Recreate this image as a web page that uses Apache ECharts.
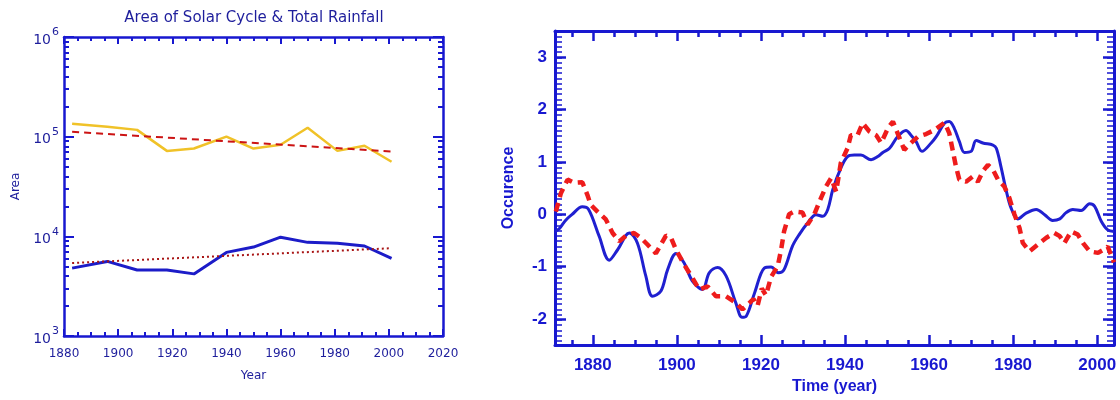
<!DOCTYPE html>
<html>
<head>
<meta charset="utf-8">
<script src="https://cdn.jsdelivr.net/npm/echarts@6/dist/echarts.min.js"></script>
<style>
  html, body { margin: 0; padding: 0; background: #fff; }
  #main { width: 1120px; height: 400px; }
</style>
</head>
<body>
<div id="main"></div>
<script>
// left panel: area of solar cycle & total rainfall (log scale)
var cycleYears = [1883, 1896, 1907, 1918, 1928, 1940, 1950, 1960, 1970, 1981, 1991, 2001];
var rainfallArea = [135000, 126000, 117000, 72000, 76000, 100000, 76000, 83000, 123000, 72000, 81000, 56000];
var solarArea = [4800, 5600, 4600, 4600, 4200, 6900, 7800, 9800, 8700, 8500, 8000, 6000];
var trendYears = [1883, 2001];
var rainfallTrend = [112000, 71000];
var solarTrend = [5400, 7600];

// right panel: occurence vs time
var solarIdxYears = [1871, 1872, 1873.5, 1875, 1877.5, 1879, 1881.5, 1883.9, 1885.9, 1888.7, 1890.6, 1892.6, 1894.2, 1896.2, 1897.8,
  1899.8, 1901.7, 1903.7, 1906.1, 1907.7, 1909.7, 1911.7, 1914, 1915.5, 1916.5, 1918.5, 1920.8, 1922.4, 1924.2, 1925.5,
  1927.5, 1929.1, 1931.1, 1933.1, 1934.7, 1935.9, 1937.1, 1939, 1940.6, 1942.2, 1943.8, 1946.2, 1947.8, 1949, 1950.6,
  1952.5, 1954.5, 1955.7, 1956.9, 1958.3, 1960.5, 1961.7, 1963.7, 1964.8, 1966, 1967.2, 1968.4, 1970, 1971.2, 1972.8,
  1975.2, 1976, 1977.1, 1978.3, 1979.5, 1981.1, 1983.1, 1985.5, 1987.5, 1989.4, 1991.1, 1992.6, 1994.2, 1996.2, 1998.2,
  1999.4, 2001, 2002.5, 2004];
var solarIdx = [-0.33, -0.28, -0.12, -0.01, 0.14, 0.09, -0.42, -0.88, -0.68, -0.36, -0.55, -1.18, -1.57, -1.47, -1.06,
  -0.75, -0.93, -1.28, -1.44, -1.12, -1.02, -1.18, -1.69, -1.97, -1.95, -1.5, -1.03, -1.01, -1.12, -1.06,
  -0.61, -0.39, -0.17, -0.01, -0.04, 0.09, 0.47, 0.88, 1.10, 1.13, 1.13, 1.04, 1.10, 1.18, 1.26,
  1.48, 1.60, 1.51, 1.39, 1.20, 1.36, 1.48, 1.74, 1.77, 1.64, 1.39, 1.18, 1.20, 1.41, 1.36,
  1.32, 1.26, 0.91, 0.47, 0.12, -0.09, 0.02, 0.09, -0.01, -0.12, -0.09, 0.03, 0.09, 0.07, 0.20,
  0.15, -0.14, -0.30, -0.33];

var rainIdxYears = [1871.2, 1872.4, 1874, 1875.6, 1877.5, 1878.7, 1879.5, 1881.1, 1883.1, 1884.7, 1886.3, 1887.9, 1889.8, 1891.4, 1893,
  1895, 1896.2, 1897.4, 1898.6, 1899.8, 1901.7, 1903.7, 1905.3, 1907.3, 1909.3, 1911.7, 1914, 1915.6, 1917, 1918.2,
  1919.2, 1920.2, 1921.2, 1922.4, 1924, 1924.8, 1925.5, 1926.7, 1927.9, 1929.9, 1931.1, 1932.7, 1934.3, 1935.5, 1936.7,
  1937.9, 1939, 1940.6, 1941.4, 1943, 1944.2, 1945.8, 1947.4, 1948.6, 1950.2, 1951.4, 1952.5, 1954.1, 1955.7, 1957.3,
  1959.3, 1961.3, 1963.7, 1964.8, 1965.6, 1966.4, 1967.2, 1968.8, 1970.4, 1971.6, 1972.8, 1974, 1975.2, 1976.4, 1977.9,
  1979.1, 1980.3, 1981.5, 1982.3, 1983.9, 1985.9, 1987.9, 1989.8, 1991.1, 1992.2, 1993.8, 1995.4, 1996.6, 1998.2, 2000.2,
  2001.5, 2002.5, 2004];
var rainIdx = [0.05, 0.40, 0.66, 0.60, 0.61, 0.37, 0.18, 0.05, -0.10, -0.36, -0.52, -0.41, -0.36, -0.45, -0.58,
  -0.75, -0.58, -0.41, -0.45, -0.68, -0.96, -1.22, -1.44, -1.38, -1.57, -1.57, -1.69, -1.82, -1.72, -1.62,
  -1.75, -1.42, -1.55, -1.2, -0.99, -0.68, -0.33, 0.0, 0.05, 0.03, -0.20, 0.0, 0.31, 0.53, 0.69,
  0.43, 0.98, 1.26, 1.51, 1.51, 1.74, 1.58, 1.51, 1.36, 1.64, 1.77, 1.55, 1.23, 1.36, 1.48,
  1.53, 1.61, 1.75, 1.55, 1.23, 0.91, 0.66, 0.62, 0.72, 0.62, 0.82, 0.94, 0.85, 0.66, 0.53,
  0.31, 0.0, -0.26, -0.55, -0.71, -0.58, -0.45, -0.36, -0.42, -0.55, -0.33, -0.39, -0.55, -0.71, -0.74,
  -0.68, -0.62, -0.92];

var rightYearTicks = [1880, 1900, 1920, 1940, 1960, 1980, 2000];
var rightValueTicks = [-2, -1, 0, 1, 2, 3];

function pairs(xs, ys) {
  var out = [];
  for (var i = 0; i < xs.length; i++) out.push([xs[i], ys[i]]);
  return out;
}

// tick positions only
var minorYears = [];
for (var y = 1875; y <= 2000; y += 5) minorYears.push(y);
var minorLog = [];
for (var d = 3; d <= 5; d++) for (var k = 2; k <= 9; k++) minorLog.push(k * Math.pow(10, d));
var minorValues = [];
for (var t = -25; t <= 35; t++) minorValues.push(t / 10);

var navy = '#1e1e9c';
var blue = '#1818d0';
var leftFont = 'DejaVu Sans';
var rightFont = 'Liberation Sans';

var leftRect = { left: 64, top: 37, width: 379, height: 299 };
var rightRect = { left: 555, top: 31, width: 559, height: 315 };

function plain(v) { return String(v); }

function bare(o) {
  // axis with nothing drawn except what o turns on
  var base = {
    axisLine: { show: false, onZero: false },
    axisTick: { show: false },
    axisLabel: { show: false },
    splitLine: { show: false },
    minorTick: { show: false },
    minorSplitLine: { show: false }
  };
  for (var key in o) base[key] = o[key];
  return base;
}

function line(w) {
  return { show: true, onZero: false, lineStyle: { color: blue, width: w } };
}
function ticks(len, w, custom) {
  var t = { show: true, inside: true, length: len, lineStyle: { color: blue, width: w } };
  if (custom) t.customValues = custom;
  return t;
}

var myChart = echarts.init(document.getElementById('main'));
myChart.setOption({
  animation: false,
  title: {
    text: 'Area of Solar Cycle & Total Rainfall',
    left: 249, top: 6, textAlign: 'center',
    textStyle: { fontFamily: leftFont, fontSize: 15, fontWeight: 'normal', color: navy }
  },
  // 0,1: the two panels; 2,3: same boxes again, only for the minor ticks
  grid: [leftRect, rightRect, leftRect, rightRect],
  xAxis: [
    bare({
      type: 'value', gridIndex: 0, min: 1880, max: 2020, interval: 20, position: 'bottom',
      name: 'Year', nameLocation: 'middle', nameGap: 34,
      nameTextStyle: { fontFamily: leftFont, fontSize: 12, color: navy },
      axisLine: line(2.5), axisTick: ticks(7, 2),
      minorTick: { show: true, splitNumber: 4, length: 4, lineStyle: { color: blue, width: 2 } },
      axisLabel: { show: true, margin: 12, formatter: plain, fontFamily: leftFont, fontSize: 12, color: navy }
    }),
    bare({
      type: 'value', gridIndex: 0, min: 1880, max: 2020, interval: 20, position: 'top',
      axisLine: line(2.5), axisTick: ticks(7, 2),
      minorTick: { show: true, splitNumber: 4, length: 4, lineStyle: { color: blue, width: 2 } }
    }),
    bare({
      type: 'value', gridIndex: 1, min: 1871, max: 2004, position: 'bottom',
      name: 'Time (year)', nameLocation: 'middle', nameGap: 34,
      nameTextStyle: { fontFamily: rightFont, fontSize: 16, fontWeight: 'bold', color: blue },
      axisLine: line(3), axisTick: ticks(10, 2.5, rightYearTicks),
      axisLabel: { show: true, margin: 12, customValues: rightYearTicks, formatter: plain, fontFamily: rightFont, fontSize: 17, fontWeight: 'bold', color: blue }
    }),
    bare({
      type: 'value', gridIndex: 1, min: 1871, max: 2004, position: 'top',
      axisLine: line(3), axisTick: ticks(10, 2.5, rightYearTicks)
    }),
    bare({ type: 'value', gridIndex: 2, min: 1880, max: 2020 }),
    bare({
      type: 'value', gridIndex: 3, min: 1871, max: 2004, position: 'bottom',
      axisTick: ticks(6, 2.5, minorYears)
    }),
    bare({
      type: 'value', gridIndex: 3, min: 1871, max: 2004, position: 'top',
      axisTick: ticks(6, 2.5, minorYears)
    })
  ],
  yAxis: [
    bare({
      type: 'log', logBase: 10, gridIndex: 0, min: 1000, max: 1000000, position: 'left',
      name: 'Area', nameLocation: 'middle', nameGap: 42, nameRotate: 90,
      nameTextStyle: { fontFamily: leftFont, fontSize: 12, color: navy },
      axisLine: line(2.5), axisTick: ticks(10, 2),
      axisLabel: {
        show: true, margin: 5, color: navy, fontFamily: leftFont,
        formatter: function (v) {
          return '{b|10}{s|' + Math.round(Math.log10(v)) + '}';
        },
        rich: {
          b: { fontFamily: leftFont, fontSize: 14, color: navy, verticalAlign: 'bottom' },
          s: { fontFamily: leftFont, fontSize: 11, color: navy, verticalAlign: 'bottom', padding: [0, 0, 9, 1] }
        }
      }
    }),
    bare({
      type: 'log', logBase: 10, gridIndex: 0, min: 1000, max: 1000000, position: 'right',
      axisLine: line(2.5), axisTick: ticks(10, 2)
    }),
    bare({
      type: 'value', gridIndex: 1, min: -2.5, max: 3.5, position: 'left',
      name: 'Occurence', nameLocation: 'middle', nameGap: 38, nameRotate: 90,
      nameTextStyle: { fontFamily: rightFont, fontSize: 16, fontWeight: 'bold', color: blue },
      axisLine: line(3), axisTick: ticks(11, 2.5, rightValueTicks),
      axisLabel: { show: true, margin: 8, customValues: rightValueTicks, fontFamily: rightFont, fontSize: 17, fontWeight: 'bold', color: blue }
    }),
    bare({
      type: 'value', gridIndex: 1, min: -2.5, max: 3.5, position: 'right',
      axisLine: line(3), axisTick: ticks(11, 2.5, rightValueTicks)
    }),
    bare({
      type: 'log', logBase: 10, gridIndex: 2, min: 1000, max: 1000000, position: 'left',
      axisTick: ticks(5, 2, minorLog)
    }),
    bare({
      type: 'log', logBase: 10, gridIndex: 2, min: 1000, max: 1000000, position: 'right',
      axisTick: ticks(5, 2, minorLog)
    }),
    bare({
      type: 'value', gridIndex: 3, min: -2.5, max: 3.5, position: 'left',
      axisTick: ticks(7, 1.5, minorValues)
    }),
    bare({
      type: 'value', gridIndex: 3, min: -2.5, max: 3.5, position: 'right',
      axisTick: ticks(7, 1.5, minorValues)
    })
  ],
  series: [
    {
      name: 'Rainfall', type: 'line', xAxisIndex: 0, yAxisIndex: 0, showSymbol: false,
      data: pairs(cycleYears, rainfallArea),
      lineStyle: { color: '#f0c228', width: 2.5 }
    },
    {
      name: 'Rainfall trend', type: 'line', xAxisIndex: 0, yAxisIndex: 0, showSymbol: false,
      data: pairs(trendYears, rainfallTrend),
      lineStyle: { color: '#cc1414', width: 2, type: [7, 5] }
    },
    {
      name: 'Solar area', type: 'line', xAxisIndex: 0, yAxisIndex: 0, showSymbol: false,
      data: pairs(cycleYears, solarArea),
      lineStyle: { color: '#1c1cc8', width: 3 }
    },
    {
      name: 'Solar trend', type: 'line', xAxisIndex: 0, yAxisIndex: 0, showSymbol: false,
      data: pairs(trendYears, solarTrend),
      lineStyle: { color: '#a81414', width: 2, type: [2, 3] }
    },
    {
      name: 'Solar index', type: 'line', xAxisIndex: 2, yAxisIndex: 2, showSymbol: false,
      smooth: 0.35, data: pairs(solarIdxYears, solarIdx),
      lineStyle: { color: '#2020d0', width: 3 }
    },
    {
      name: 'Rainfall index', type: 'line', xAxisIndex: 2, yAxisIndex: 2, showSymbol: false,
      data: pairs(rainIdxYears, rainIdx),
      lineStyle: { color: '#ee1c1c', width: 4.5, type: [9, 6] }
    }
  ]
});
</script>
</body>
</html>
